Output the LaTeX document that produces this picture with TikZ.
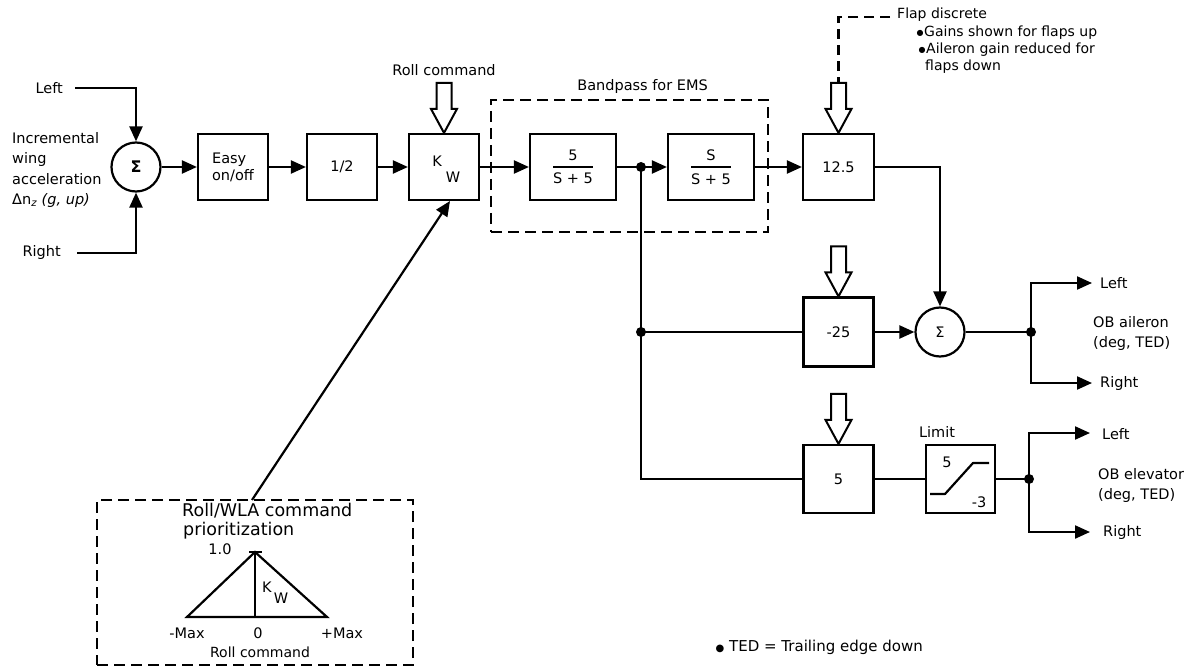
\documentclass[tikz,border=0pt]{standalone}
\usepackage{amsmath}
\usepackage{fontspec}
\setmainfont{DejaVu Sans}
\usetikzlibrary{arrows.meta}
\begin{document}
\begin{tikzpicture}[x=1pt,y=-1pt,
  font=\fontsize{14.5}{17}\selectfont,
  blk/.style={draw, line width=2.2pt, minimum width=70pt, minimum height=66pt, inner sep=2pt},
  sumc/.style={draw, circle, line width=2.2pt, minimum size=49pt, inner sep=0pt},
  wire/.style={line width=2.2pt},
  arr/.style={wire, -{Triangle[length=15pt,width=13pt]}},
  dbox/.style={draw, line width=2pt, dash pattern=on 11pt off 6pt},
  dline/.style={line width=2.2pt, dash pattern=on 10pt off 6pt},
  dot/.style={circle, fill, inner sep=0pt, minimum size=10pt},
  lbl/.style={inner sep=0pt},
  hollow/.pic={\draw[line width=2pt, fill=white, line join=miter]
     (-7.5,-50) -- (-7.5,-24) -- (-13,-24) -- (0,0) -- (13,-24) -- (7.5,-24) -- (7.5,-50) -- cycle;}
]
\useasboundingbox (0,0) rectangle (1188,668);

% ---- main row
\node[sumc] (s1) at (136,167) {\fontsize{16}{16}\selectfont\bfseries Σ};
\node[blk, align=left] (easy) at (233,167) {Easy\\on/off};
\node[blk] (half) at (342,167) {1/2};
\node[blk] (kw) at (444,167) {};
\node[lbl] (kwK) at (437,161) {K};
\node[lbl] (kwW) at (453,177) {W};
\node[dbox, minimum width=277pt, minimum height=132pt] (bp) at (629.5,166) {};
\node[lbl, anchor=east] (bplbl) at (708,87) {Bandpass for EMS};
\node[blk, minimum width=86pt] (f1) at (573,167) {$\genfrac{}{}{1.8pt}{0}{\hbox{5}}{\hbox{S + 5}}$};
\node[blk, minimum width=86pt] (f2) at (711,167) {$\genfrac{}{}{1.8pt}{0}{\hbox{S}}{\hbox{S + 5}}$};
\node[blk, minimum width=71pt] (g125) at (838.5,167) {12.5};
\node[dot] (j1) at (641,167) {};

% ---- lower branches
\node[sumc] (s2) at (940,332) {Σ};
\node[blk, minimum height=69pt] (g25) at (838.5,332) {-25};
\node[blk, minimum height=68pt] (g5) at (838.5,479) {5};
\node[blk, minimum height=68pt, minimum width=69pt] (lim) at (960.5,479) {};
\node[dot] (j2) at (641,332) {};
\coordinate (j3) at (641,479);
\node[dot] (ja) at (1031,332) {};
\node[dot] (je) at (1029,479) {};

% ---- inputs
\coordinate (inL) at (75,88);
\coordinate (inR) at (77,253);
\node[lbl, anchor=east] (tL) at (63,88) {Left};
\node[lbl, anchor=east] (tR) at (61,253) {Right};
\node[lbl, anchor=north west, align=left, font=\fontsize{14.5}{20.5}\selectfont] (incr) at (12,132)
  {Incremental\\wing\\acceleration\\Δn\textsubscript{\itshape z} {\itshape (g, up)}};
\draw[arr] (inL) -| (s1);
\draw[arr] (inR) -| (s1);

% ---- main connectors
\draw[arr] (s1) -- (easy);
\draw[arr] (easy) -- (half);
\draw[arr] (half) -- (kw);
\draw[arr] (kw) -- (f1);
\draw[arr] (f1) -- (f2);
\draw[arr] (f2) -- (g125);
\draw[arr] (g125) -| (s2);
\draw[wire] (j1.center) -- (j3) -- (g5);
\draw[wire] (j2.center) -- (g25);
\draw[arr] (g25) -- (s2);
\draw[wire] (s2) -- (ja.center);
\draw[wire] (g5) -- (lim);
\draw[wire] (lim) -- (je.center);

% ---- outputs
\coordinate (aL) at (1092,283);
\coordinate (aR) at (1092,383);
\coordinate (eL) at (1090,433);
\coordinate (eR) at (1090,532);
\draw[arr] (ja.center) |- (aL);
\draw[arr] (ja.center) |- (aR);
\draw[arr] (je.center) |- (eL);
\draw[arr] (je.center) |- (eR);
\node[lbl, anchor=west] (oaL) at (1100,283) {Left};
\node[lbl, anchor=west, align=left, font=\fontsize{14.5}{20}\selectfont] (oa) at (1093,333) {OB aileron\\(deg, TED)};
\node[lbl, anchor=west] (oaR) at (1100,383) {Right};
\node[lbl, anchor=west] (oeL) at (1102,434) {Left};
\node[lbl, anchor=west, align=left, font=\fontsize{14.5}{20}\selectfont] (oe) at (1098,485) {OB elevator\\(deg, TED)};
\node[lbl, anchor=west] (oeR) at (1103,532) {Right};

% ---- limiter
\node[lbl] (limlbl) at (937,432) {Limit};
\node[lbl] (lim5) at (947,462) {5};
\node[lbl] (lim3) at (979,502) {-3};
\draw[wire, line join=round] (930,494) -- (945,494) -- (973,463) -- (989,463);

% ---- hollow command arrows
\pic at (kw.north) {hollow};
\pic at (g125.north) {hollow};
\pic at (g25.north) {hollow};
\pic at (g5.north) {hollow};
\node[lbl] (rollc) at (444,70) {Roll command};

% ---- flap discrete
\coordinate (flapA) at (890,17);
\coordinate (flapB) at (838.5,84);
\draw[dline] (flapA) -| (flapB);
\node[lbl, anchor=west, font=\fontsize{14}{17}\selectfont] (fl1) at (897,15) {Flap discrete};
\node[lbl, font=\fontsize{8}{8}\selectfont] (b1) at (920,33) {●};
\node[lbl, anchor=west, font=\fontsize{14}{17}\selectfont] (fl2) at (924,33) {Gains shown for flaps up};
\node[lbl, font=\fontsize{8}{8}\selectfont] (b2) at (922,50) {●};
\node[lbl, anchor=west, font=\fontsize{14}{17}\selectfont] (fl3) at (926,50) {Aileron gain reduced for};
\node[lbl, anchor=west, font=\fontsize{14}{17}\selectfont] (fl4) at (925,67) {flaps down};

% ---- Roll/WLA prioritization
\node[dbox, minimum width=316pt, minimum height=165pt] (wlabox) at (255,582.5) {};
\coordinate (wla) at (252,500);
\coordinate (kwin) at (450,201);
\draw[arr] (wla) -- (kwin);
\node[lbl, anchor=west, font=\fontsize{17.5}{20}\selectfont] (wt1) at (182,511) {Roll/WLA command};
\node[lbl, anchor=west, font=\fontsize{17.5}{20}\selectfont] (wt2) at (183,531) {prioritization};
\draw[wire, line join=miter] (187,617) -- (255,552) -- (327,617) -- cycle;
\draw[wire] (255,552) -- (255,617);
\draw[wire] (249,552) -- (262,552);
\node[lbl] (one) at (220,549) {1.0};
\node[lbl] (tK) at (267,587) {K};
\node[lbl] (tW) at (281,598) {W};
\node[lbl] (mmax) at (187,633) {-Max};
\node[lbl] (zero) at (258,633) {0};
\node[lbl] (pmax) at (342,633) {+Max};
\node[lbl, font=\fontsize{14}{17}\selectfont] (rcmd) at (260,652) {Roll command};

% ---- note
\node[lbl, anchor=base east, font=\fontsize{15}{17}\selectfont] (ted) at (923,651) {{\fontsize{10}{10}\selectfont ●} TED = Trailing edge down};
\end{tikzpicture}
\end{document}
